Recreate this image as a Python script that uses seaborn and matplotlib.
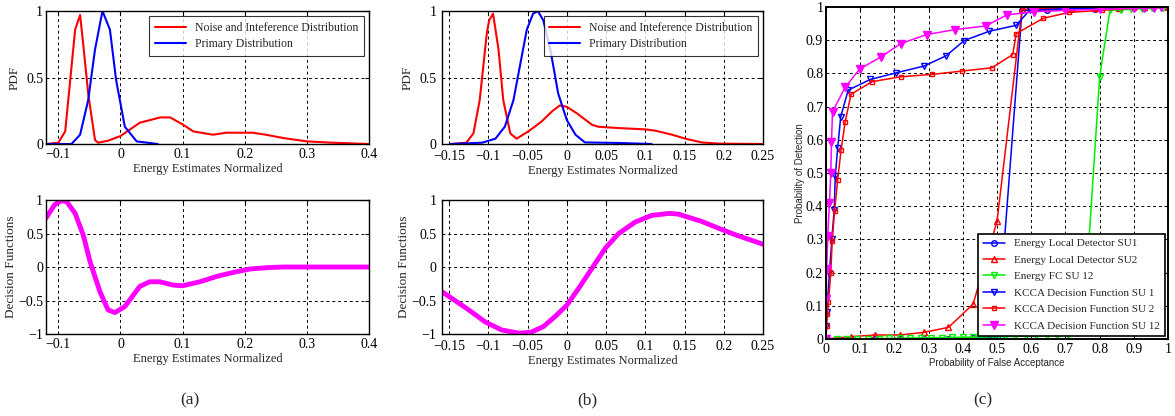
import numpy as np
import pandas as pd
import matplotlib
matplotlib.use("Agg")
import matplotlib.pyplot as plt
from matplotlib.ticker import FuncFormatter, MultipleLocator
import seaborn as sns

# ---- panel (a) data ----
a_noise_x = [-0.12, -0.1, -0.089, -0.073, -0.065, -0.06, -0.052, -0.041, -0.036, -0.02, 0.0,
             0.031, 0.064, 0.08, 0.101, 0.117, 0.149, 0.17, 0.213, 0.234, 0.262, 0.3, 0.34, 0.4]
a_noise_y = [0.0, 0.01, 0.095, 0.86, 0.97, 0.75, 0.38, 0.03, 0.01, 0.025, 0.06,
             0.16, 0.2, 0.2, 0.145, 0.095, 0.07, 0.085, 0.085, 0.07, 0.045, 0.02, 0.01, 0.0]
a_prim_x = [-0.12, -0.079, -0.065, -0.052, -0.041, -0.029, -0.017, -0.007, 0.007, 0.026, 0.06]
a_prim_y = [0.0, 0.0, 0.07, 0.33, 0.71, 1.0, 0.86, 0.48, 0.13, 0.02, 0.0]

a_dec_x = [-0.12, -0.106, -0.095, -0.087, -0.073, -0.06, -0.049, -0.033, -0.02, -0.009, 0.007,
           0.031, 0.047, 0.063, 0.085, 0.1, 0.128, 0.155, 0.182, 0.208, 0.235, 0.262, 0.3, 0.4]
a_dec_y = [0.73, 0.93, 0.99, 0.98, 0.8, 0.48, 0.08, -0.37, -0.64, -0.68, -0.59,
           -0.29, -0.22, -0.22, -0.27, -0.28, -0.22, -0.14, -0.08, -0.03, -0.01, 0.0, 0.0, 0.0]

# ---- panel (b) data ----
b_noise_x = [-0.148, -0.128, -0.119, -0.111, -0.102, -0.099, -0.094, -0.087, -0.081, -0.072,
             -0.064, -0.049, -0.032, -0.019, -0.009, 0.0, 0.013, 0.032, 0.04, 0.066, 0.1,
             0.113, 0.134, 0.151, 0.172, 0.193, 0.25]
b_noise_y = [0.0, 0.01, 0.08, 0.33, 0.83, 0.93, 0.98, 0.71, 0.33, 0.08,
             0.04, 0.095, 0.17, 0.245, 0.29, 0.28, 0.23, 0.145, 0.13, 0.12, 0.11,
             0.1, 0.07, 0.04, 0.012, 0.003, 0.0]
b_prim_x = [-0.148, -0.108, -0.091, -0.079, -0.068, -0.06, -0.051, -0.043, -0.037, -0.03,
            -0.021, -0.011, 0.0, 0.011, 0.023, 0.066, 0.108]
b_prim_y = [0.0, 0.01, 0.04, 0.13, 0.33, 0.58, 0.86, 0.98, 1.0, 0.93,
            0.71, 0.38, 0.18, 0.07, 0.012, 0.008, 0.0]

b_dec_x = [-0.159, -0.15, -0.125, -0.104, -0.083, -0.06, -0.045, -0.03, -0.015, 0.0, 0.015,
           0.032, 0.049, 0.066, 0.087, 0.108, 0.13, 0.142, 0.172, 0.193, 0.215, 0.25]
b_dec_y = [-0.37, -0.44, -0.64, -0.82, -0.94, -0.99, -0.97, -0.89, -0.74, -0.57, -0.32,
           -0.02, 0.28, 0.5, 0.67, 0.77, 0.8, 0.79, 0.68, 0.58, 0.48, 0.34]

# ---- panel (c) data ----
en_x = [0.0, 0.072, 0.143, 0.215, 0.286, 0.358, 0.43, 0.5, 0.573, 0.645, 0.716, 0.787, 0.858, 0.93, 1.0]
en_su1_y = [0.0, 0.0, 0.0, 0.0, 0.0, 0.0, 0.002, 0.005, 0.99, 0.992, 0.995, 0.994, 0.997, 0.998, 1.0]
en_su2_y = [0.0, 0.007, 0.012, 0.012, 0.02, 0.035, 0.105, 0.355, 0.993, 0.996, 0.997, 0.998, 0.998, 0.999, 1.0]

fc_x = [0.0, 0.031, 0.061, 0.092, 0.123, 0.154, 0.184, 0.215, 0.246, 0.277, 0.307, 0.338,
        0.369, 0.4, 0.43, 0.461, 0.492, 0.523, 0.553, 0.584, 0.615, 0.646, 0.676, 0.707,
        0.738, 0.769, 0.8, 0.83, 0.861, 0.892, 0.923, 0.953, 0.984, 1.0]
fc_y = [0.0, 0.0, 0.0, 0.0, 0.001, 0.001, 0.002, 0.002, 0.003, 0.003, 0.004, 0.004,
        0.005, 0.005, 0.006, 0.006, 0.007, 0.007, 0.008, 0.008, 0.009, 0.01, 0.01, 0.012,
        0.02, 0.3, 0.79, 0.99, 0.992, 0.993, 0.995, 0.996, 0.998, 1.0]

k1_x = [0.0, 0.0, 0.002, 0.01, 0.017, 0.024, 0.027, 0.034, 0.043, 0.065, 0.13, 0.206, 0.286,
        0.351, 0.404, 0.477, 0.556, 0.595, 0.7, 0.8, 0.9, 1.0]
k1_y = [0.0, 0.04, 0.08, 0.2, 0.3, 0.39, 0.49, 0.574, 0.67, 0.75, 0.782, 0.802, 0.822,
        0.853, 0.899, 0.927, 0.945, 0.99, 0.995, 0.997, 0.998, 1.0]

k2_x = [0.0, 0.002, 0.004, 0.007, 0.014, 0.018, 0.025, 0.034, 0.044, 0.056, 0.073, 0.134,
        0.219, 0.309, 0.397, 0.485, 0.546, 0.556, 0.635, 0.711, 0.806, 0.899, 1.0]
k2_y = [0.0, 0.04, 0.075, 0.11, 0.2, 0.295, 0.385, 0.48, 0.569, 0.654, 0.737, 0.775,
        0.79, 0.797, 0.807, 0.817, 0.857, 0.92, 0.966, 0.984, 0.99, 0.997, 1.0]

k12_x = [0.0, 0.0, 0.002, 0.005, 0.01, 0.014, 0.016, 0.019, 0.056, 0.098, 0.161, 0.219,
         0.294, 0.377, 0.467, 0.528, 0.607, 0.7, 0.8, 0.9, 0.93, 0.96, 0.98, 1.0]
k12_y = [0.0, 0.12, 0.21, 0.31, 0.41, 0.5, 0.594, 0.685, 0.758, 0.813, 0.85, 0.89,
         0.917, 0.932, 0.943, 0.976, 0.986, 0.99, 0.993, 0.996, 0.997, 0.998, 0.999, 1.0]

sns.set_style("white")
plt.rcParams['font.family'] = ['Liberation Serif', 'DejaVu Serif']
plt.rcParams['xtick.direction'] = 'in'
plt.rcParams['ytick.direction'] = 'in'
plt.rcParams['xtick.top'] = True
plt.rcParams['ytick.right'] = True
plt.rcParams['xtick.major.size'] = 3
plt.rcParams['ytick.major.size'] = 3
plt.rcParams['axes.unicode_minus'] = True

fig = plt.figure(figsize=(11.75, 4.16), dpi=100)


def matlab_fmt(v, pos):
    s = f"{v:.3g}"
    if s in ("-0", "0.0", "-0.0"):
        s = "0"
    return s.replace("-", "\u2212")


def style_axes(ax, fs=10, xpad=3, ypad=2):
    ax.grid(True, color='k', linestyle=(0, (3, 3)), linewidth=0.7)
    ax.set_axisbelow(True)
    for sp in ax.spines.values():
        sp.set_color('k')
        sp.set_linewidth(1.0)
    ax.xaxis.set_major_formatter(FuncFormatter(matlab_fmt))
    ax.yaxis.set_major_formatter(FuncFormatter(matlab_fmt))
    ax.tick_params(labelsize=fs, colors='k')
    ax.tick_params(axis='x', pad=xpad)
    ax.tick_params(axis='y', pad=ypad)


def pdf_panel(rect, nx, ny, px, py, xlim, xstep, xpad=3, ypad=2):
    ax = fig.add_axes(rect)
    sns.lineplot(x=nx, y=ny, color='#ff0000', linewidth=1.5, estimator=None, sort=False,
                 label='Noise and Inteference Distribution', ax=ax)
    sns.lineplot(x=px, y=py, color='#0000ff', linewidth=1.5, estimator=None, sort=False,
                 label='Primary Distribution', ax=ax)
    ax.set_xlim(*xlim)
    ax.set_ylim(0, 1)
    ax.xaxis.set_major_locator(MultipleLocator(xstep))
    ax.yaxis.set_major_locator(MultipleLocator(0.5))
    style_axes(ax, xpad=xpad, ypad=ypad)
    ax.set_xlabel('Energy Estimates Normalized', fontsize=9, labelpad=1)
    ax.set_ylabel('PDF', fontsize=9.5, labelpad=4)
    leg = ax.legend(loc='upper right', fontsize=8.5, frameon=True, fancybox=False,
                    handlelength=2.6, borderpad=0.45, labelspacing=0.4, borderaxespad=0.45)
    leg.get_frame().set_edgecolor('k')
    leg.get_frame().set_linewidth(0.8)
    return ax


def dec_panel(rect, dx, dy, xlim, xstep, xpad=3, ypad=2):
    ax = fig.add_axes(rect)
    sns.lineplot(x=dx, y=dy, color='#ff00ff', linewidth=3.5, estimator=None, sort=False, ax=ax)
    ax.set_xlim(*xlim)
    ax.set_ylim(-1, 1)
    ax.xaxis.set_major_locator(MultipleLocator(xstep))
    ax.yaxis.set_major_locator(MultipleLocator(0.5))
    style_axes(ax, xpad=xpad, ypad=ypad)
    ax.set_xlabel('Energy Estimates Normalized', fontsize=9, labelpad=1)
    ax.set_ylabel('Decision Functions', fontsize=9.5, labelpad=1)
    return ax


pdf_panel([0.0391, 0.6538, 0.2749, 0.3197], a_noise_x, a_noise_y, a_prim_x, a_prim_y, (-0.12, 0.4), 0.1)
dec_panel([0.0391, 0.1971, 0.2749, 0.3221], a_dec_x, a_dec_y, (-0.12, 0.4), 0.1)
pdf_panel([0.3762, 0.6538, 0.2732, 0.3197], b_noise_x, b_noise_y, b_prim_x, b_prim_y, (-0.159, 0.25), 0.05,
          xpad=4.5, ypad=4)
dec_panel([0.3762, 0.1971, 0.2732, 0.3221], b_dec_x, b_dec_y, (-0.159, 0.25), 0.05,
          xpad=4.5, ypad=4)

# ---- panel (c) ----
axc = fig.add_axes([0.703, 0.1851, 0.2911, 0.798])
series = [
    (en_x, en_su1_y, '#0000ff', 'o', 'none', 4, 'Energy Local Detector SU1'),
    (en_x, en_su2_y, '#ff0000', '^', 'none', 5, 'Energy Local Detector SU2'),
    (fc_x, fc_y, '#00ee00', 'v', 'none', 5, 'Energy FC SU 12'),
    (k1_x, k1_y, '#0000ff', 'v', 'none', 5, 'KCCA Decision Function SU 1'),
    (k2_x, k2_y, '#ff0000', 's', 'none', 3.5, 'KCCA Decision Function SU 2'),
    (k12_x, k12_y, '#ff00ff', 'v', '#ff00ff', 6, 'KCCA Decision Function SU 12'),
]
for xs, ys, col, mk, mfc, ms, lab in series:
    sns.lineplot(x=xs, y=ys, color=col, linewidth=1.1, marker=mk, markersize=ms,
                 markerfacecolor=mfc, markeredgecolor=col, markeredgewidth=1.0,
                 estimator=None, sort=False, label=lab, ax=axc)
axc.set_xlim(0, 1)
axc.set_ylim(0, 1)
axc.xaxis.set_major_locator(MultipleLocator(0.1))
axc.yaxis.set_major_locator(MultipleLocator(0.1))
style_axes(axc, fs=10)
for sp in axc.spines.values():
    sp.set_linewidth(1.4)
axc.set_xlabel('Probability of False Acceptance', fontsize=7, family=['Liberation Sans', 'DejaVu Sans'], labelpad=1)
axc.set_ylabel('Probability of Detection', fontsize=7, family=['Liberation Sans', 'DejaVu Sans'], labelpad=1)
legc = axc.legend(loc='lower right', fontsize=8, frameon=True, fancybox=False,
                  handlelength=2.0, borderpad=0.45, labelspacing=0.6, borderaxespad=0.3)
legc.get_frame().set_edgecolor('k')
legc.get_frame().set_linewidth(1.2)
legc.get_frame().set_alpha(1)

fig.text(190 / 1175, 1 - 400 / 416, '(a)', ha='center', va='center', fontsize=12.5)
fig.text(587 / 1175, 1 - 400 / 416, '(b)', ha='center', va='center', fontsize=12.5)
fig.text(983 / 1175, 1 - 400 / 416, '(c)', ha='center', va='center', fontsize=12.5)

fig.savefig('out.png', dpi=100)
